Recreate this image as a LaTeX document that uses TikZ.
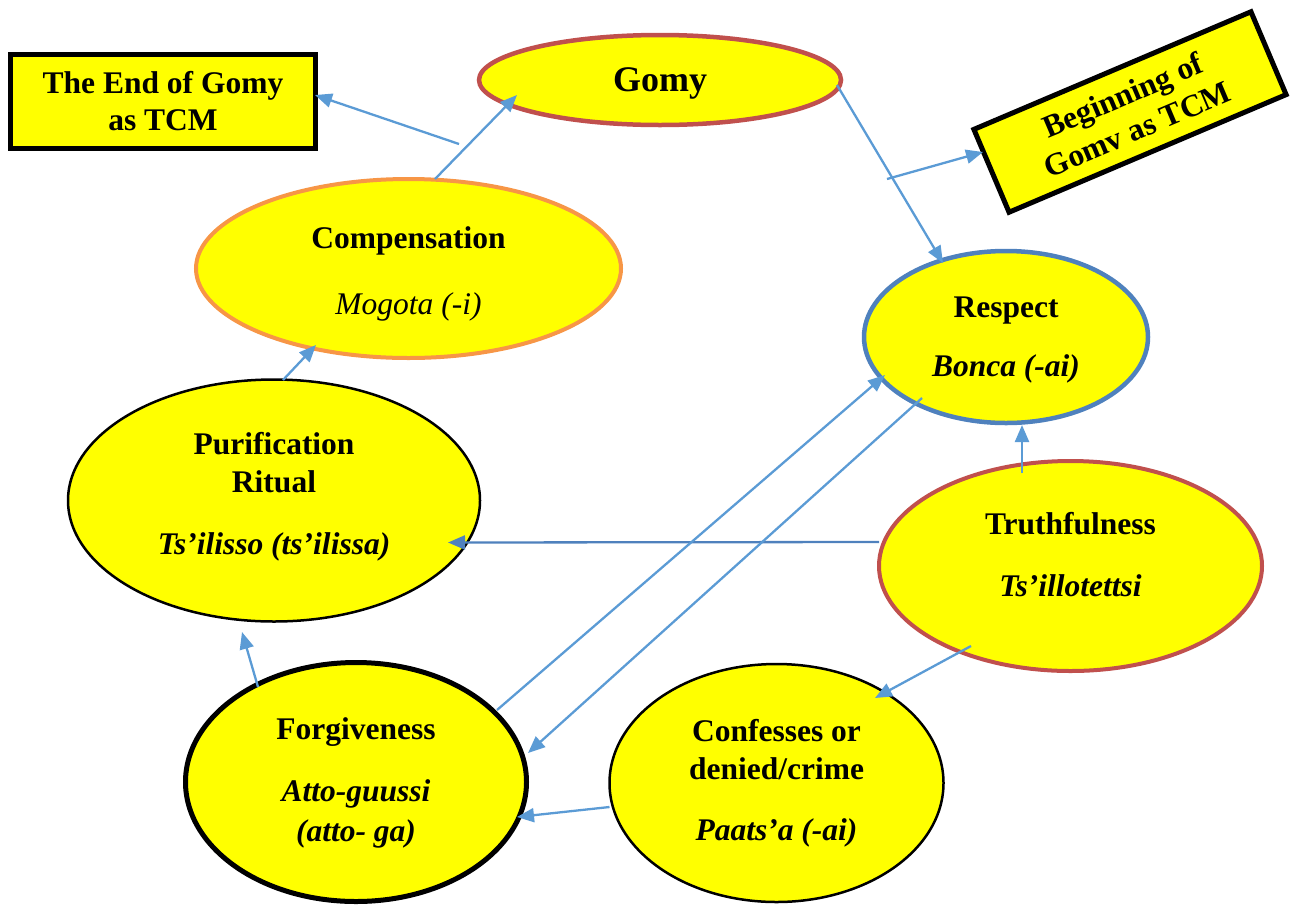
\documentclass[tikz,border=0pt]{standalone}
\usepackage{fontspec}
\setmainfont{Liberation Serif}
\usetikzlibrary{shapes.geometric,arrows.meta,calc}
\definecolor{yel}{HTML}{FFFF00}
\definecolor{redb}{HTML}{C0504D}
\definecolor{orng}{HTML}{F79646}
\definecolor{blueb}{HTML}{4F81BD}
\definecolor{arr}{HTML}{5B9BD5}
\begin{document}
\begin{tikzpicture}[x=1pt,y=-1pt,
  ell/.style={ellipse, fill=yel, inner sep=0pt},
  txt/.style={font=\fontsize{31.5}{38}\selectfont\bfseries, align=center, inner sep=0pt},
  box/.style={rectangle, draw=black, line width=5pt, fill=yel, inner sep=0pt, align=center, font=\fontsize{31.5}{37}\selectfont\bfseries},
  link/.style={draw=arr, line width=2.3pt, -{Triangle[length=17pt,width=14pt]}}]
\useasboundingbox (0,0) rectangle (1292,911);

% boxes
\node[box, minimum width=305pt, minimum height=94pt] (endbox) at (163,101.5) {The End of Gomy\\as TCM};
\node[box, minimum width=301pt, minimum height=90pt, rotate=23] (begbox) at (1130,112) {Beginning of\\Gomv as TCM};

% ellipses
\node[ell, draw=redb, line width=4.5pt, minimum width=362pt, minimum height=90pt, text depth=0pt, font=\fontsize{36}{43}\selectfont\bfseries] (gomy) at (660,80) {Gomy};
\node[ell, draw=orng, line width=4pt, minimum width=425pt, minimum height=179pt] (comp) at (408.5,268.5) {};
\node[ell, draw=blueb, line width=4.5pt, minimum width=284pt, minimum height=172pt] (resp) at (1006,337) {};
\node[ell, draw=black, line width=2.5pt, minimum width=412pt, minimum height=242pt] (puri) at (274,500.5) {};
\node[ell, draw=redb, line width=4pt, minimum width=383pt, minimum height=210pt] (tru) at (1070.5,566) {};
\node[ell, draw=black, line width=5pt, minimum width=341pt, minimum height=239pt] (forg) at (356,782) {};
\node[ell, draw=black, line width=2.5pt, minimum width=334pt, minimum height=238pt] (conf) at (776.5,783) {};

% texts
\node[txt] (compt) at ($(comp)+(0,5.5)$) {Compensation\\[28pt]{\mdseries\itshape Mogota (-i)}};
\node[txt] (respt) at ($(resp)+(0,3)$) {Respect\\[21pt]\textit{Bonca (-ai)}};
\node[txt] (purit) at ($(puri)+(0,-3.5)$) {Purification\\Ritual\\[24pt]\textit{Ts’ilisso (ts’ilissa)}};
\node[txt] (trut) at ($(tru)+(0,-11)$) {Truthfulness\\[24pt]\textit{Ts’illotettsi}};
\node[txt] (forgt) at ($(forg)+(0,1)$) {Forgiveness\\[24pt]\textit{Atto-guussi}\\[2pt]\textit{(atto- ga)}};
\node[txt] (conft) at ($(conf)+(0,0)$) {Confesses or\\denied/crime\\[23pt]\textit{Paats’a (-ai)}};

% free ends
\coordinate (endtail) at (459,144);
\coordinate (cmid) at (887,179);

% connectors
\draw[link] (endtail) -- ($(endbox)+(152,-6.5)$);
\draw[link] ($(comp)+(26.5,-89.5)$) -- ($(gomy)+(-143,15)$);
\draw[link] ($(gomy)+(177,5)$) -- ($(resp)+(-63,-74)$);
\draw[link] (cmid) -- ($(begbox)+(-147,40)$);
\draw[link] ($(puri)+(9,-120.5)$) -- ($(comp)+(-92.5,76.5)$);
\draw[link] ($(tru)+(-48.5,-93)$) -- ($(resp)+(16,88)$);
\draw[link, draw=blueb] ($(tru)+(-191.5,-24)$) -- ($(puri)+(174,42)$);
\draw[link] ($(forg)+(141,-72)$) -- ($(resp)+(-121,38)$);
\draw[link] ($(resp)+(-84,61)$) -- ($(forg)+(172,-29)$);
\draw[link] ($(tru)+(-99.5,80)$) -- ($(conf)+(98.5,-85)$);
\draw[link] ($(conf)+(-167,24)$) -- ($(forg)+(161,35)$);
\draw[link] ($(forg)+(-98,-95)$) -- ($(puri)+(-32,131.5)$);
\end{tikzpicture}
\end{document}
